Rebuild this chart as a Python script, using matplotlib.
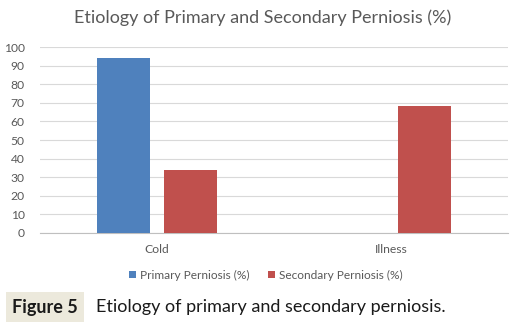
import numpy as np
import matplotlib
matplotlib.use("Agg")
import matplotlib.pyplot as plt

categories = ["Cold", "Illness"]
primary = [94, 0]
secondary = [34, 68.5]
series_names = ["Primary Perniosis (%)", "Secondary Perniosis (%)"]
yticks = list(range(0, 101, 10))

plt.rcParams['font.family'] = ['Lato', 'DejaVu Sans']
txt = '#595959'

fig = plt.figure(figsize=(5.16, 3.27), dpi=100)
ax = fig.add_axes([0.0775, 0.2875, 0.9065, 0.5685])

x = np.arange(len(categories))
w = 0.227
off = 0.143
ax.bar(x - off, primary, w, color='#4f81bd', label=series_names[0], zorder=3)
ax.bar(x + off, secondary, w, color='#c0504d', label=series_names[1], zorder=3)

ax.set_xlim(-0.5, 1.5)
ax.set_ylim(0, 100)
ax.set_yticks(yticks)
ax.set_xticks(x)
ax.set_xticklabels(categories)
ax.grid(axis='y', color='#d9d9d9', linewidth=0.8, zorder=0)
for s in ['top', 'right', 'left']:
    ax.spines[s].set_visible(False)
ax.spines['bottom'].set_color('#bfbfbf')
ax.tick_params(length=0, labelsize=8.7, colors=txt)
ax.tick_params(axis='y', pad=11)
ax.tick_params(axis='x', pad=8)

fig.text(0.508, 0.945, "Etiology of Primary and Secondary Perniosis (%)",
         ha='center', va='center', fontsize=13, color=txt)

fig.legend(loc='center', bbox_to_anchor=(0.515, 0.158), ncol=2, frameon=False,
           fontsize=8.6, labelcolor=txt, handlelength=0.6, handleheight=0.6,
           handletextpad=0.3, columnspacing=1.6)

fig.text(0.023, 0.061, "Figure 5", ha='left', va='center', fontsize=13,
         fontweight='bold', color='#1a1a1a',
         bbox=dict(facecolor='#ece9dc', edgecolor='none', pad=4.5))
fig.text(0.186, 0.061, "Etiology of primary and secondary perniosis.",
         ha='left', va='center', fontsize=13, color='#1a1a1a')

fig.savefig("out.png", dpi=100)
